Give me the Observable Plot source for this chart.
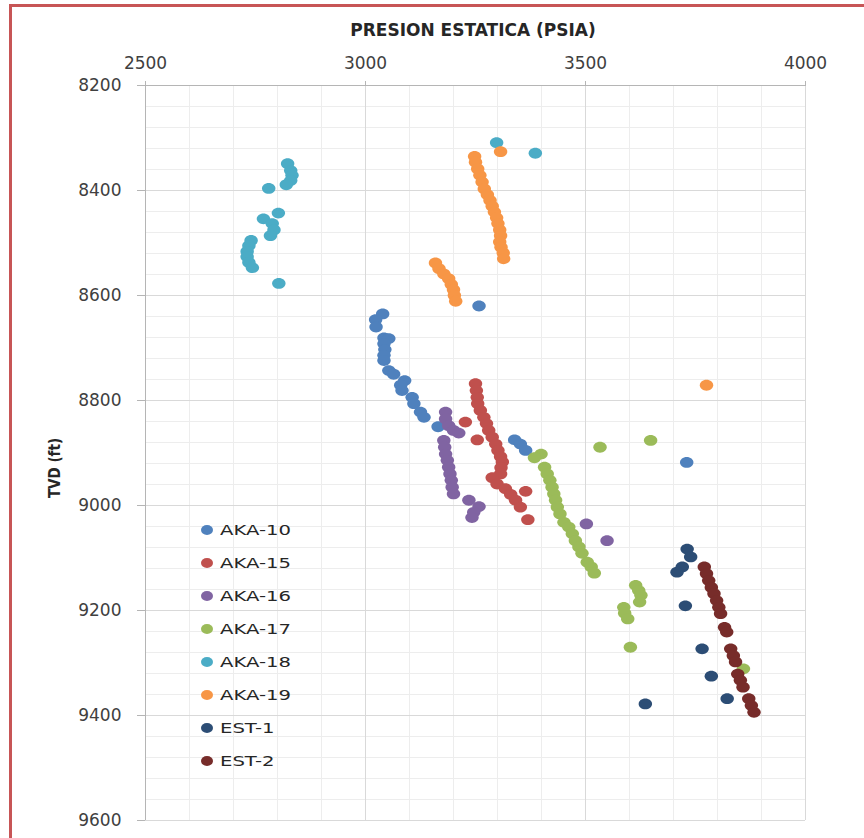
<!DOCTYPE html>
<html>
<head>
<meta charset="utf-8">
<script src="https://cdn.jsdelivr.net/npm/d3@7"></script>
<script src="https://cdn.jsdelivr.net/npm/@observablehq/plot@0.6"></script>
<style>
  html, body { margin: 0; padding: 0; background: #fff; }
  #wrap { position: relative; width: 864px; height: 838px; overflow: hidden; }
  #wrap svg { position: absolute; left: 0; top: 0; }
  #marco { position: absolute; left: 9px; top: 4px; width: 900px; height: 900px;
           border-left: 3px solid #c75556; border-top: 3px solid #c75556; pointer-events: none; }
  #titulo { position: absolute; left: 473px; top: 30px; transform: translate(-50%, -50%);
            font-family: "DejaVu Sans", sans-serif; font-weight: bold; font-size: 17px;
            color: #262626; white-space: nowrap; }
  #ejeY { position: absolute; left: 55px; top: 468px; transform: translate(-50%, -50%) rotate(-90deg);
          font-family: "Liberation Sans Narrow", "DejaVu Sans Condensed", sans-serif; font-weight: bold;
          font-size: 15px; color: #262626; white-space: nowrap; }
  .fila { position: absolute; height: 20px; line-height: 20px; white-space: nowrap; }
  .fila .m { position: absolute; left: 0; top: 5px; width: 12px; height: 10px; border-radius: 50%; }
  .fila .t { position: absolute; left: 19px; top: 0; font-family: "DejaVu Sans", sans-serif; font-size: 14px;
             color: #262626; transform: scaleX(1.4); transform-origin: left center; }
</style>
</head>
<body>
<div id="wrap">
  <div id="marco"></div>
</div>
<script>
// Static pressure surveys per well: [pressure (psia), TVD (ft)]
const aka10 = [[3258,8620],[3039,8635],[3023,8646],[3024,8660],[3042,8681],[3053,8682],[3042,8692],[3044,8703],[3042,8714],[3042,8724],[3053,8743],[3064,8750],[3089,8762],[3080,8771],[3083,8781],[3106,8794],[3110,8806],[3125,8822],[3133,8832],[3165,8850],[3339,8875],[3352,8883],[3364,8895],[3730,8918]];
const aka15 = [[3250,8768],[3252,8781],[3254,8794],[3255,8806],[3261,8819],[3269,8832],[3275,8844],[3280,8857],[3288,8870],[3296,8883],[3301,8895],[3307,8907],[3311,8917],[3308,8928],[3307,8940],[3288,8947],[3299,8959],[3318,8968],[3330,8979],[3341,8990],[3352,9003],[3364,8973],[3369,9027],[3227,8841],[3254,8875]];
const aka16 = [[3182,8822],[3182,8835],[3189,8848],[3200,8857],[3212,8862],[3178,8876],[3180,8889],[3182,8902],[3186,8914],[3189,8927],[3192,8940],[3195,8952],[3197,8965],[3200,8978],[3235,8990],[3258,9002],[3246,9013],[3242,9023],[3502,9035],[3549,9067]];
const aka17 = [[3399,8902],[3384,8909],[3407,8927],[3413,8940],[3419,8952],[3424,8965],[3428,8978],[3432,8990],[3436,9003],[3442,9016],[3451,9032],[3462,9041],[3470,9054],[3477,9067],[3485,9079],[3492,9091],[3504,9108],[3513,9117],[3520,9129],[3533,8889],[3648,8876],[3614,9152],[3621,9162],[3626,9171],[3623,9184],[3587,9194],[3589,9205],[3596,9216],[3602,9270],[3859,9311]];
const aka18 = [[3298,8309],[3386,8329],[2823,8349],[2830,8362],[2833,8371],[2830,8381],[2820,8389],[2780,8396],[2802,8443],[2768,8454],[2788,8463],[2792,8475],[2784,8486],[2740,8495],[2735,8505],[2731,8516],[2731,8526],[2735,8537],[2743,8547],[2803,8577]];
const aka19 = [[3307,8326],[3248,8335],[3250,8346],[3255,8359],[3260,8371],[3265,8384],[3270,8397],[3277,8408],[3283,8419],[3288,8430],[3293,8441],[3298,8452],[3301,8463],[3305,8475],[3307,8486],[3305,8498],[3308,8508],[3313,8519],[3314,8530],[3159,8538],[3167,8549],[3178,8559],[3189,8568],[3195,8579],[3200,8589],[3202,8600],[3205,8611],[3775,8771]];
const est1 = [[3731,9083],[3739,9098],[3720,9117],[3708,9127],[3727,9191],[3765,9273],[3786,9325],[3822,9368],[3636,9378]];
const est2 = [[3770,9117],[3775,9130],[3780,9143],[3786,9156],[3792,9168],[3798,9181],[3803,9194],[3807,9206],[3816,9232],[3821,9241],[3830,9273],[3836,9286],[3841,9298],[3846,9321],[3852,9333],[3858,9346],[3871,9368],[3877,9381],[3883,9394]];

const pozos = ["AKA-10","AKA-15","AKA-16","AKA-17","AKA-18","AKA-19","EST-1","EST-2"];
const colores = ["#4F81BD","#C0504D","#8064A2","#9BBB59","#4BACC6","#F79646","#2C4D75","#772C2A"];
const datosPozo = [aka10, aka15, aka16, aka17, aka18, aka19, est1, est2];

// Axis ticks
const ticksX = [2500, 3000, 3500, 4000];
const ticksY = [8200, 8400, 8600, 8800, 9000, 9200, 9400, 9600];
const menoresX = d3.range(2500, 4001, 100);
const menoresY = d3.range(8200, 9601, 40);

const filas = pozos.flatMap((p, i) => datosPozo[i].map(([psi, tvd]) => ({pozo: p, psi, tvd})));

// Slightly flattened marker, like spreadsheet scatter markers
const elipse = {
  draw(ctx, size) {
    const r = Math.sqrt(size / Math.PI);
    const rx = r * 1.12, ry = r * 0.9, k = 0.5523;
    ctx.moveTo(rx, 0);
    ctx.bezierCurveTo(rx, ry * k, rx * k, ry, 0, ry);
    ctx.bezierCurveTo(-rx * k, ry, -rx, ry * k, -rx, 0);
    ctx.bezierCurveTo(-rx, -ry * k, -rx * k, -ry, 0, -ry);
    ctx.bezierCurveTo(rx * k, -ry, rx, -ry * k, rx, 0);
    ctx.closePath();
  }
};

const grafico = Plot.plot({
  width: 864,
  height: 838,
  marginLeft: 145,
  marginRight: 59,
  marginTop: 85,
  marginBottom: 18,
  style: {fontFamily: "DejaVu Sans, sans-serif", fontSize: "17px", color: "#404040", background: "transparent"},
  x: {domain: [2500, 4000]},
  y: {domain: [8200, 9600], reverse: true},
  color: {domain: pozos, range: colores},
  marks: [
    Plot.gridX(menoresX, {stroke: "#ededed", strokeOpacity: 1}),
    Plot.gridY(menoresY, {stroke: "#ededed", strokeOpacity: 1}),
    Plot.gridX(ticksX, {stroke: "#d9d9d9", strokeOpacity: 1}),
    Plot.gridY(ticksY, {stroke: "#d9d9d9", strokeOpacity: 1}),
    Plot.ruleX([2500], {stroke: "#b5b5b5"}),
    Plot.ruleY([8200], {stroke: "#b5b5b5"}),
    Plot.axisX(ticksX, {anchor: "top", tickSize: 5, tickPadding: 12, tickFormat: "d", label: null, stroke: "#b5b5b5", fill: "#404040"}),
    Plot.axisY(ticksY, {anchor: "left", tickSize: 8, tickPadding: 16, tickFormat: "d", label: null, stroke: "#b5b5b5", fill: "#404040"}),
    Plot.dot(filas, {x: "psi", y: "tvd", fill: "pozo", r: 6, symbol: elipse})
  ]
});

const wrap = document.getElementById("wrap");
wrap.insertBefore(grafico, wrap.firstChild);

const titulo = document.createElement("div");
titulo.id = "titulo";
titulo.textContent = "PRESION ESTATICA (PSIA)";
wrap.appendChild(titulo);

const ejeY = document.createElement("div");
ejeY.id = "ejeY";
ejeY.textContent = "TVD (ft)";
wrap.appendChild(ejeY);

// Legend inside the plot area
pozos.forEach((p, i) => {
  const f = document.createElement("div");
  f.className = "fila";
  f.style.left = "201px";
  f.style.top = (520 + i * 33) + "px";
  const m = document.createElement("span");
  m.className = "m";
  m.style.background = colores[i];
  const t = document.createElement("span");
  t.className = "t";
  t.textContent = p;
  f.appendChild(m);
  f.appendChild(t);
  wrap.appendChild(f);
});
</script>
</body>
</html>
